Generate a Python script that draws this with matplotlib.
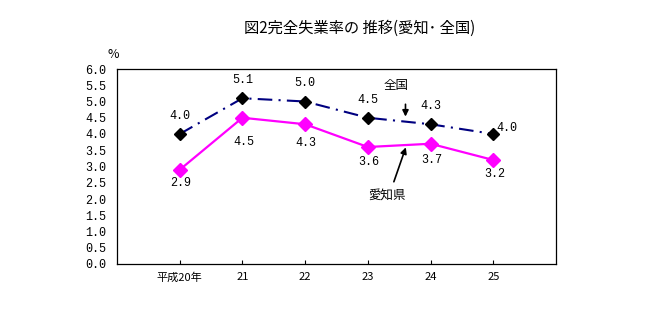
import matplotlib.pyplot as plt

plt.rcParams['font.family'] = ['Noto Sans CJK JP', 'DejaVu Sans']

years = ['平成20年', '21', '22', '23', '24', '25']
zenkoku = [4.0, 5.1, 5.0, 4.5, 4.3, 4.0]
aichi = [2.9, 4.5, 4.3, 3.6, 3.7, 3.2]
yticks = [i * 0.5 for i in range(13)]

num_font = 'Liberation Mono'

fig = plt.figure(figsize=(6.49, 3.25), dpi=100)
ax = fig.add_axes([117 / 649, 61 / 325, 439 / 649, 195 / 325])

x = list(range(len(years)))
ax.plot(x, zenkoku, color='#000080', lw=1.5, dashes=[7, 3, 1, 3],
        marker='D', markersize=6.5, markerfacecolor='black',
        markeredgecolor='black', zorder=3)
ax.plot(x, aichi, color='#ff00ff', lw=1.6,
        marker='D', markersize=7, markerfacecolor='#ff00ff',
        markeredgecolor='#ff00ff', zorder=3)

# value labels: 全国 above, 愛知県 below
for i, v in enumerate(zenkoku):
    if i == len(zenkoku) - 1:
        xy_off = (14, 6)
    else:
        xy_off = (0, 18)
    ax.annotate(f'{v:.1f}', (i, v), xytext=xy_off, textcoords='offset pixels',
                ha='center', va='center', fontsize=8.5, family=num_font)
below = [-13, -24, -19, -15, -16, -14]
for i, v in enumerate(aichi):
    ax.annotate(f'{v:.1f}', (i, v), xytext=(1, below[i]), textcoords='offset pixels',
                ha='center', va='center', fontsize=8.5, family=num_font)

ax.set_xlim(-1, 6)
ax.set_ylim(0, 6)
ax.set_xticks(x)
ax.set_xticklabels(years, fontsize=8)
ax.set_yticks(yticks)
ax.set_yticklabels([f'{t:.1f}' for t in yticks], family=num_font, fontsize=8.5)
ax.tick_params(axis='x', direction='in', length=3, pad=6, width=0.8)
ax.tick_params(axis='y', length=0, pad=8)
for s in ax.spines.values():
    s.set_linewidth(0.9)

# series name callouts
ax.annotate('', xy=(3.6, 4.45), xytext=(3.6, 5.0),
            arrowprops=dict(arrowstyle='-|>', color='black', lw=1.2, mutation_scale=9))
ax.text(3.45, 5.5, '全国', ha='center', va='center', fontsize=9)
ax.annotate('', xy=(3.62, 3.67), xytext=(3.4, 2.45),
            arrowprops=dict(arrowstyle='-|>', color='black', lw=1.2, mutation_scale=9))
ax.text(3.3, 2.12, '愛知県', ha='center', va='center', fontsize=9)

fig.text(113 / 649, 1 - 55 / 325, '%', ha='center', va='center', fontsize=9)
fig.text(360 / 649, 1 - 28 / 325, '図2完全失業率の 推移(愛知･ 全国)',
         ha='center', va='center', fontsize=11)

fig.savefig('out.png', dpi=100)
